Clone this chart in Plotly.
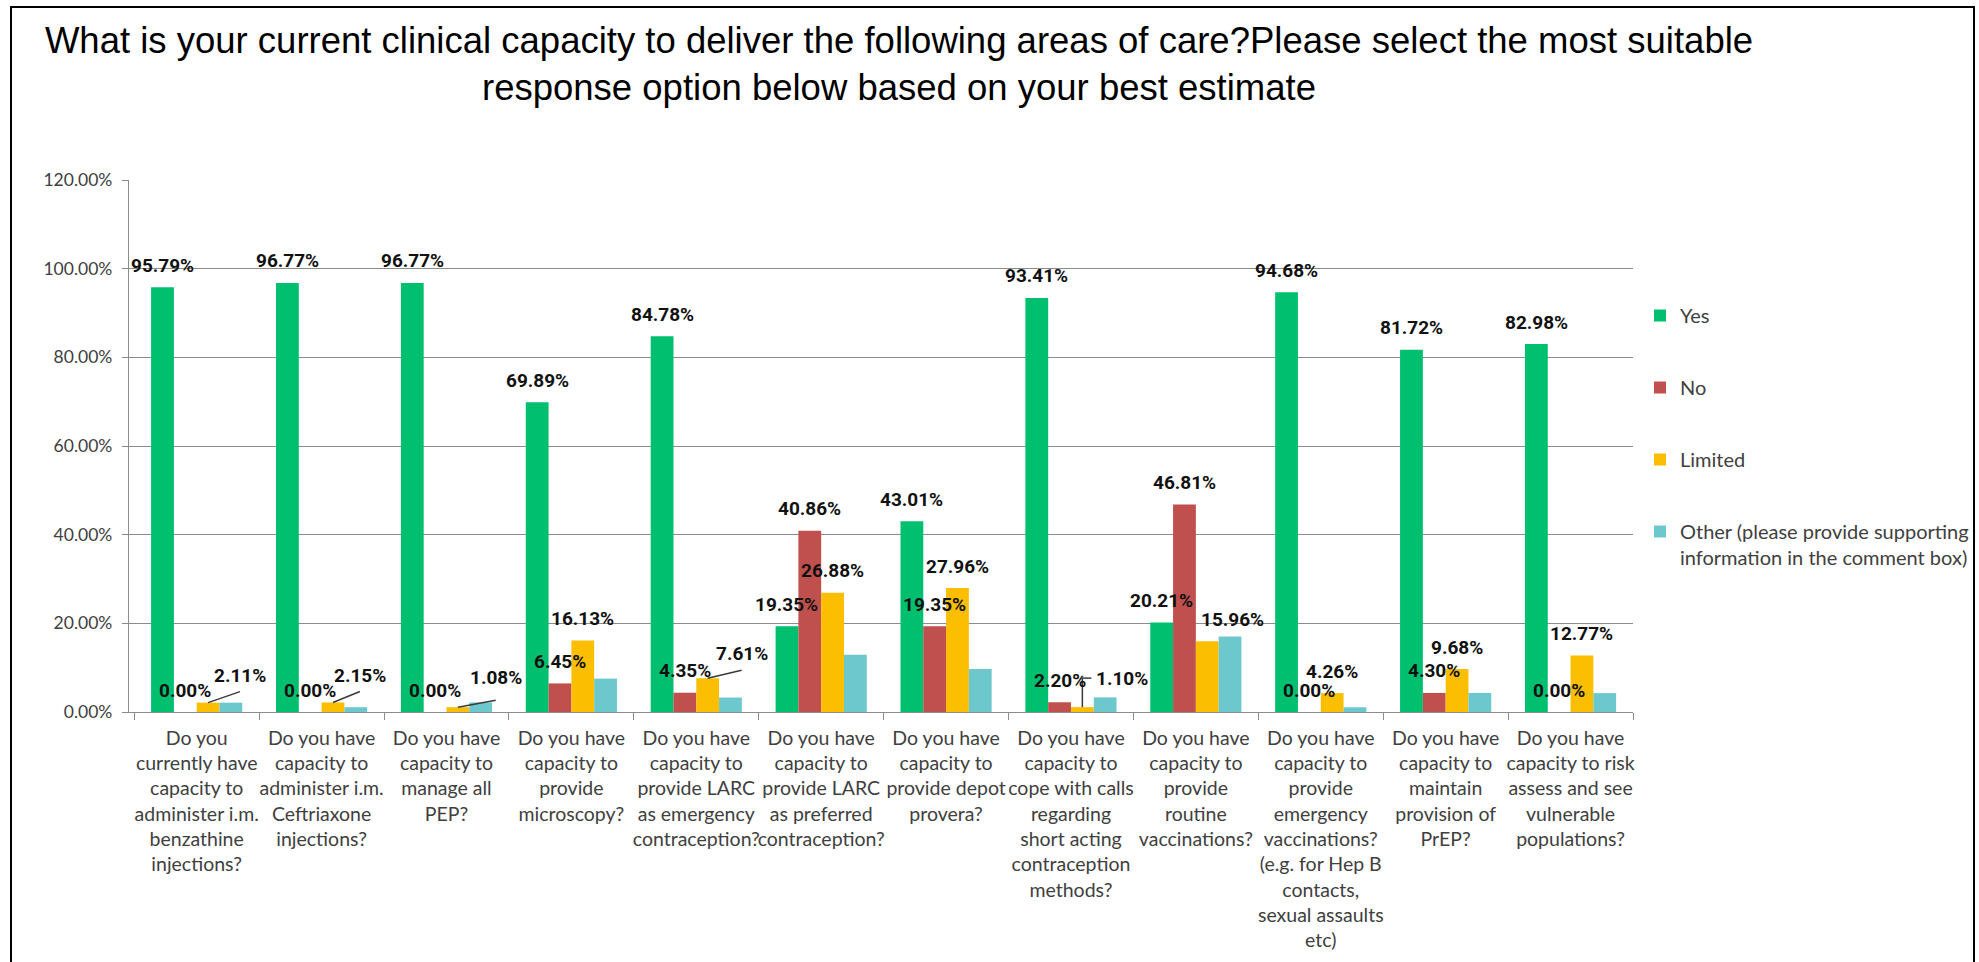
import plotly.graph_objects as go

# ---- data -----------------------------------------------------------------
categories = [
    "Do you<br>currently have<br>capacity to<br>administer i.m.<br>benzathine<br>injections?",
    "Do you have<br>capacity to<br>administer i.m.<br>Ceftriaxone<br>injections?",
    "Do you have<br>capacity to<br>manage all<br>PEP?",
    "Do you have<br>capacity to<br>provide<br>microscopy?",
    "Do you have<br>capacity to<br>provide LARC<br>as emergency<br>contraception?",
    "Do you have<br>capacity to<br>provide LARC<br>as preferred<br>contraception?",
    "Do you have<br>capacity to<br>provide depot<br>provera?",
    "Do you have<br>capacity to<br>cope with calls<br>regarding<br>short acting<br>contraception<br>methods?",
    "Do you have<br>capacity to<br>provide<br>routine<br>vaccinations?",
    "Do you have<br>capacity to<br>provide<br>emergency<br>vaccinations?<br>(e.g. for Hep B<br>contacts,<br>sexual assaults<br>etc)",
    "Do you have<br>capacity to<br>maintain<br>provision of<br>PrEP?",
    "Do you have<br>capacity to risk<br>assess and see<br>vulnerable<br>populations?",
]

yes = [95.79, 96.77, 96.77, 69.89, 84.78, 19.35, 43.01, 93.41, 20.21, 94.68, 81.72, 82.98]
no = [0.00, 0.00, 0.00, 6.45, 4.35, 40.86, 19.35, 2.20, 46.81, 0.00, 4.30, 0.00]
limited = [2.11, 2.15, 1.08, 16.13, 7.61, 26.88, 27.96, 1.10, 15.96, 4.26, 9.68, 12.77]
other = [2.11, 1.08, 2.15, 7.53, 3.26, 12.90, 9.68, 3.30, 17.02, 1.06, 4.30, 4.26]

series_names = ["Yes", "No", "Limited",
                "Other (please provide supporting<br>information in the comment box)"]
series_values = [yes, no, limited, other]
series_colors = ["#00BF6F", "#C0504D", "#FBBE00", "#6CC8CD"]
labelled_series = [0, 1, 2]          # "Other" carries no data labels

y_ticks = [0, 20, 40, 60, 80, 100, 120]
y_tick_text = [f"{t:.2f}%" for t in y_ticks]

title_text = ("What is your current clinical capacity to deliver the following areas of "
              "care?Please select the most suitable<br>response option below based on your best estimate")

# ---- layout constants -----------------------------------------------------
W, H = 1979, 962
M_L, M_R, M_T, M_B = 129, 346, 180, 250
PLOT_W = W - M_L - M_R
PLOT_H = H - M_T - M_B
Y_MAX = 120
BARGAP = 0.27
N = len(categories)
CAT_PX = PLOT_W / N
PX_PER_PCT = PLOT_H / Y_MAX
BAR_W = (1 - BARGAP) / len(series_values)
OFFSETS = [(k - (len(series_values) - 1) / 2) * BAR_W for k in range(len(series_values))]

LABEL_LIFT = 22    # px between bar top and label centre
GRID = "#8C8C8C"
LABEL_FONT = dict(family="Roboto, Liberation Sans, sans-serif", size=19, color="#111111")
TEXT_FONT = "Lato, Calibri, Carlito, sans-serif"

# labels moved aside from their bars: (series, group) -> (dx px, extra lift px, leader, leader drop px)
label_nudges = {
    (2, 0): (32, 5, "diag", 16),
    (2, 1): (27, 5, "diag", 16),
    (2, 2): (38, 8, "diag", 23),
    (2, 4): (34, 3, "diag", 17),
    (2, 7): (40, 7, "elbow", 0),
    (2, 8): (25, 0, None, 0),
}

fig = go.Figure()

for k, (name, vals, col) in enumerate(zip(series_names, series_values, series_colors)):
    fig.add_trace(go.Bar(
        name=name, x=categories, y=vals,
        marker=dict(color=col, line=dict(width=0)),
        legendgroup=f"g{k}",
        hoverinfo="skip",
    ))

annotations = []
shapes = []
for k in labelled_series:
    for i, v in enumerate(series_values[k]):
        xb = i + OFFSETS[k]
        dx, up, leader, drop = label_nudges.get((k, i), (0, 0, None, 0))
        lift = LABEL_LIFT + up
        annotations.append(dict(
            x=xb, y=v, xref="x", yref="y", text=f"<b>{v:.2f}%</b>",
            showarrow=False, xanchor="center", yanchor="middle",
            xshift=dx, yshift=lift, font=LABEL_FONT,
        ))
        line_style = dict(color="#3A3A3A", width=1.5)
        if leader == "diag":
            shapes.append(dict(
                type="line", xref="x", yref="y",
                x0=xb, y0=v,
                x1=xb + dx / CAT_PX, y1=v + (lift - drop) / PX_PER_PCT,
                line=line_style,
            ))
        elif leader == "elbow":
            y_lab = v + lift / PX_PER_PCT
            shapes.append(dict(type="line", xref="x", yref="y",
                               x0=xb, y0=v, x1=xb, y1=y_lab, line=line_style))
            shapes.append(dict(type="line", xref="x", yref="y",
                               x0=xb, y0=y_lab, x1=xb + 9 / CAT_PX, y1=y_lab, line=line_style))

# outer frame of the chart
shapes.append(dict(
    type="rect", xref="paper", yref="paper",
    x0=(11 - M_L) / PLOT_W, x1=(1974 - M_L) / PLOT_W,
    y0=(H - M_B - 1000) / PLOT_H, y1=(H - M_B - 7) / PLOT_H,
    line=dict(color="#000000", width=2), fillcolor="rgba(0,0,0,0)", layer="above",
))

fig.update_layout(
    width=W, height=H,
    margin=dict(l=M_L, r=M_R, t=M_T, b=M_B, pad=0, autoexpand=False),
    paper_bgcolor="white", plot_bgcolor="white",
    barmode="group", bargap=BARGAP, bargroupgap=0,
    title=dict(text=title_text, x=899 / W, xanchor="center", xref="container",
               y=1 - 53 / H, yanchor="top", yref="container",
               font=dict(family="Liberation Sans, Arial, sans-serif", size=36.5, color="#000000")),
    font=dict(family=TEXT_FONT, color="#404040"),
    legend=dict(
        x=(1640 - M_L) / PLOT_W, xanchor="left",
        y=(H - M_B - 296) / PLOT_H, yanchor="top",
        font=dict(family=TEXT_FONT, size=20, color="#404040"),
        tracegroupgap=43, valign="top", bgcolor="rgba(0,0,0,0)",
        traceorder="grouped",
    ),
    annotations=annotations,
    shapes=shapes,
    showlegend=True,
)

fig.update_xaxes(
    type="category", tickson="boundaries", ticks="outside", ticklen=7,
    tickcolor=GRID, tickwidth=1.3, showline=True, linecolor=GRID, linewidth=1.3,
    showgrid=False, tickangle=0, ticklabelstandoff=8,
    tickfont=dict(family=TEXT_FONT, size=19.5, color="#404040"),
)
fig.update_yaxes(
    range=[0, Y_MAX], tickmode="array", tickvals=y_ticks, ticktext=y_tick_text,
    ticks="outside", ticklen=6, tickcolor=GRID, tickwidth=1.3,
    showline=True, linecolor=GRID, linewidth=1.3,
    showgrid=True, gridcolor=GRID, gridwidth=1.3, zeroline=False,
    ticklabelstandoff=6,
    tickfont=dict(family=TEXT_FONT, size=17.5, color="#404040"),
)

fig.write_html("out.html", config={"displayModeBar": False})
